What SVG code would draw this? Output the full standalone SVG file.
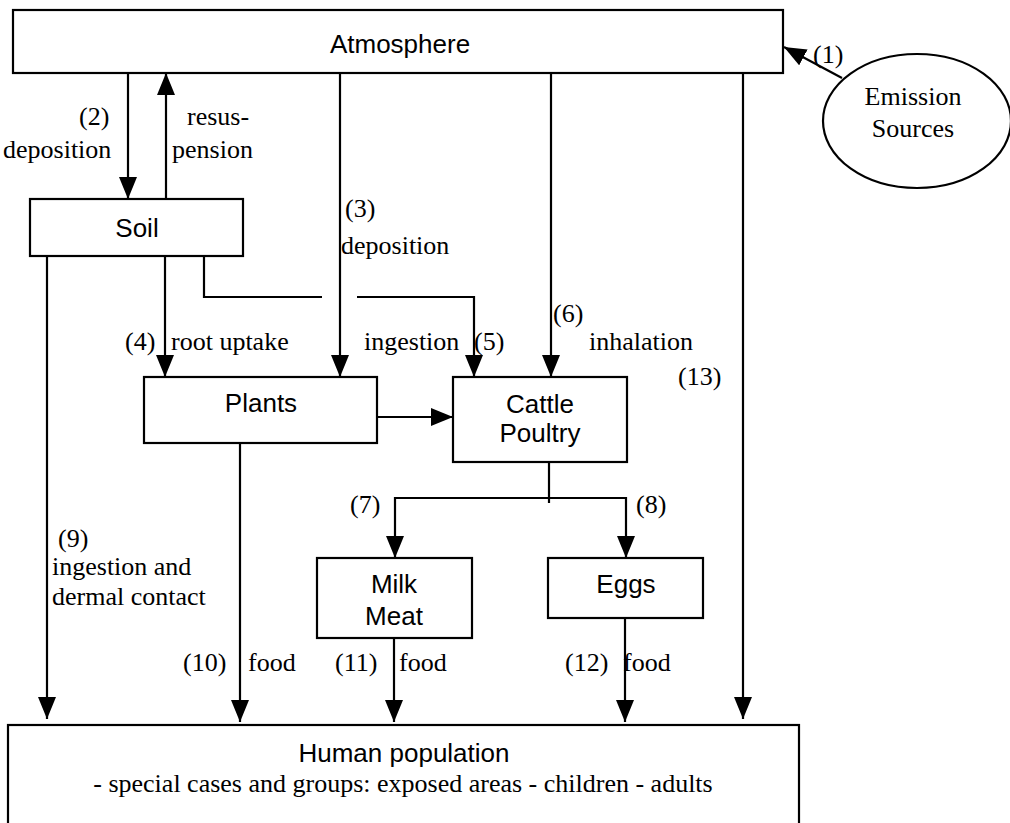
<svg xmlns="http://www.w3.org/2000/svg" width="1010" height="823" viewBox="0 0 1010 823">
<style>
.box{fill:#fff;stroke:#000;stroke-width:2.2}
.ln{fill:none;stroke:#000;stroke-width:2.2}
.arr{marker-end:url(#ah)}
.sans{font-family:"Liberation Sans",Arial,sans-serif;font-size:26px;fill:#000}
.ser{font-family:"Liberation Serif","Times New Roman",serif;font-size:26px;fill:#000}
.mid{text-anchor:middle}
</style>
<defs>
<marker id="ah" viewBox="0 0 22 18" refX="22" refY="9" markerWidth="22" markerHeight="18" markerUnits="userSpaceOnUse" orient="auto">
<path d="M0,0 L22,9 L0,18 z" fill="#000"/>
</marker>
</defs>
<rect width="1010" height="823" fill="#fff"/>

<g id="connectors">
<line class="ln arr" x1="842" y1="78" x2="784" y2="47"/>
<line class="ln arr" x1="128" y1="73" x2="128" y2="199"/>
<line class="ln arr" x1="166" y1="199" x2="166" y2="73"/>
<line class="ln arr" x1="340" y1="73" x2="340" y2="377"/>
<line class="ln arr" x1="551" y1="73" x2="551" y2="377"/>
<line class="ln arr" x1="743" y1="73" x2="743" y2="719"/>
<line class="ln arr" x1="47" y1="256" x2="47" y2="719"/>
<line class="ln arr" x1="165" y1="256" x2="165" y2="377"/>
<path class="ln" d="M204,256 V297 H322"/>
<path class="ln arr" d="M357,297 H474 V377"/>
<line class="ln arr" x1="377" y1="417" x2="453" y2="417"/>
<line class="ln" x1="549" y1="462" x2="549" y2="503"/>
<path class="ln arr" d="M549,498 H395 V558"/>
<path class="ln arr" d="M549,498 H626 V558"/>
<line class="ln arr" x1="240" y1="443" x2="240" y2="722"/>
<line class="ln arr" x1="394" y1="638" x2="394" y2="722"/>
<line class="ln arr" x1="625" y1="618" x2="625" y2="722"/>
</g>

<g id="atmosphere">
<rect class="box" x="13" y="10" width="770" height="63"/>
<text class="sans mid" x="400" y="53">Atmosphere</text>
</g>

<g id="emission">
<ellipse class="box" cx="917" cy="121" rx="94" ry="67"/>
<text class="ser mid" x="913" y="105">Emission</text>
<text class="ser mid" x="913" y="137">Sources</text>
</g>

<g id="soil">
<rect class="box" x="30" y="199" width="213" height="57"/>
<text class="sans mid" x="137" y="237">Soil</text>
</g>

<g id="plants">
<rect class="box" x="144" y="377" width="233" height="66"/>
<text class="sans mid" x="261" y="412">Plants</text>
</g>

<g id="cattle">
<rect class="box" x="453" y="377" width="174" height="85"/>
<text class="sans mid" x="540" y="413">Cattle</text>
<text class="sans mid" x="540" y="442">Poultry</text>
</g>

<g id="milkmeat">
<rect class="box" x="317" y="558" width="155" height="80"/>
<text class="sans mid" x="394" y="593">Milk</text>
<text class="sans mid" x="394" y="625">Meat</text>
</g>

<g id="eggs">
<rect class="box" x="548" y="558" width="155" height="60"/>
<text class="sans mid" x="626" y="593">Eggs</text>
</g>

<g id="human">
<rect class="box" x="8" y="725" width="791" height="130"/>
<text class="sans mid" x="404" y="762">Human population</text>
<text class="ser mid" x="403" y="792">- special cases and groups: exposed areas - children - adults</text>
</g>

<g id="labels">
<text class="ser" x="813" y="63">(1)</text>
<text class="ser" x="79" y="125">(2)</text>
<text class="ser" x="3" y="158">deposition</text>
<text class="ser" x="187" y="125">resus-</text>
<text class="ser" x="172" y="158">pension</text>
<text class="ser" x="345" y="217">(3)</text>
<text class="ser" x="341" y="254">deposition</text>
<text class="ser" x="125" y="350">(4)</text>
<text class="ser" x="171" y="350">root uptake</text>
<text class="ser" x="364" y="350">ingestion</text>
<text class="ser" x="474" y="350">(5)</text>
<text class="ser" x="553" y="322">(6)</text>
<text class="ser" x="589" y="350">inhalation</text>
<text class="ser" x="678" y="385">(13)</text>
<text class="ser" x="350" y="513">(7)</text>
<text class="ser" x="636" y="513">(8)</text>
<text class="ser" x="58" y="547">(9)</text>
<text class="ser" x="52" y="575">ingestion and</text>
<text class="ser" x="52" y="605">dermal contact</text>
<text class="ser" x="183" y="671">(10)</text>
<text class="ser" x="248" y="671">food</text>
<text class="ser" x="335" y="671">(11)</text>
<text class="ser" x="399" y="671">food</text>
<text class="ser" x="565" y="671">(12)</text>
<text class="ser" x="623" y="671">food</text>
</g>
</svg>
